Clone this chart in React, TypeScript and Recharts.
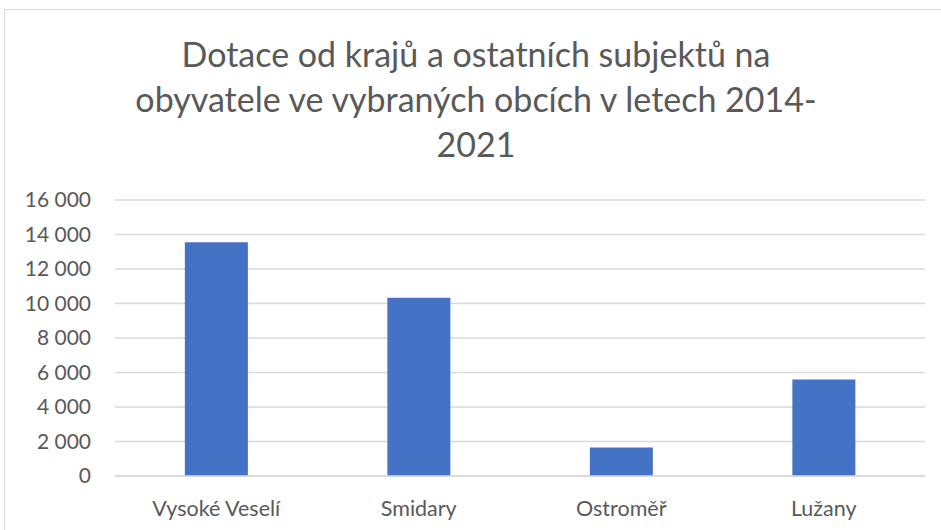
import React from 'react';
import { BarChart, Bar, XAxis, YAxis, CartesianGrid } from 'recharts';

const obce = ['Vysoké Veselí', 'Smidary', 'Ostroměř', 'Lužany'];
const dotace = [13550, 10340, 1650, 5600];
const yTicks = [0, 2000, 4000, 6000, 8000, 10000, 12000, 14000, 16000];
const titleLines = [
    'Dotace od krajů a ostatních subjektů na',
    'obyvatele ve vybraných obcích v letech 2014-',
    '2021',
];

const fmt = (v: number) => v.toLocaleString('en-US').replace(/,/g, ' ');

const App: React.FC = () => {
    const data = obce.map((name, i) => ({ name, value: dotace[i] }));
    const font = 'Lato, "Open Sans", sans-serif';

    return (
        <div style={{ position: 'absolute', left: 0, top: 0, width: 941, height: 530, background: '#fff', overflow: 'hidden', fontFamily: font }}>
            <div style={{ position: 'absolute', left: 4, top: 9, width: 960, height: 560, border: '1px solid #d9d9d9' }} />
            <div style={{ position: 'absolute', left: 0, top: 31, width: 952, textAlign: 'center', color: '#595959', fontSize: 34, lineHeight: '45px' }}>
                {titleLines.map(l => <div key={l}>{l}</div>)}
            </div>
            <div style={{ position: 'absolute', left: 0, top: 0 }}>
                <BarChart width={941} height={530} data={data} margin={{ top: 200, right: 16, bottom: 0, left: 0 }} barCategoryGap="34.5%">
                    <CartesianGrid vertical={false} stroke="#d9d9d9" strokeWidth={1.5} />
                    <XAxis
                        dataKey="name"
                        height={54}
                        axisLine={{ stroke: '#d9d9d9', strokeWidth: 1.5 }}
                        tickLine={false}
                        tickSize={0}
                        tickMargin={25}
                        tick={{ fill: '#595959', fontSize: 21.5, fontFamily: font }}
                    />
                    <YAxis
                        width={115}
                        domain={[0, 16000]}
                        ticks={yTicks}
                        axisLine={false}
                        tickLine={false}
                        tickSize={0}
                        tickMargin={24}
                        tickFormatter={fmt}
                        tick={{ fill: '#595959', fontSize: 21, fontFamily: font }}
                    />
                    <Bar dataKey="value" fill="#4472c4" isAnimationActive={false} />
                </BarChart>
            </div>
        </div>
    );
};

export default App;
